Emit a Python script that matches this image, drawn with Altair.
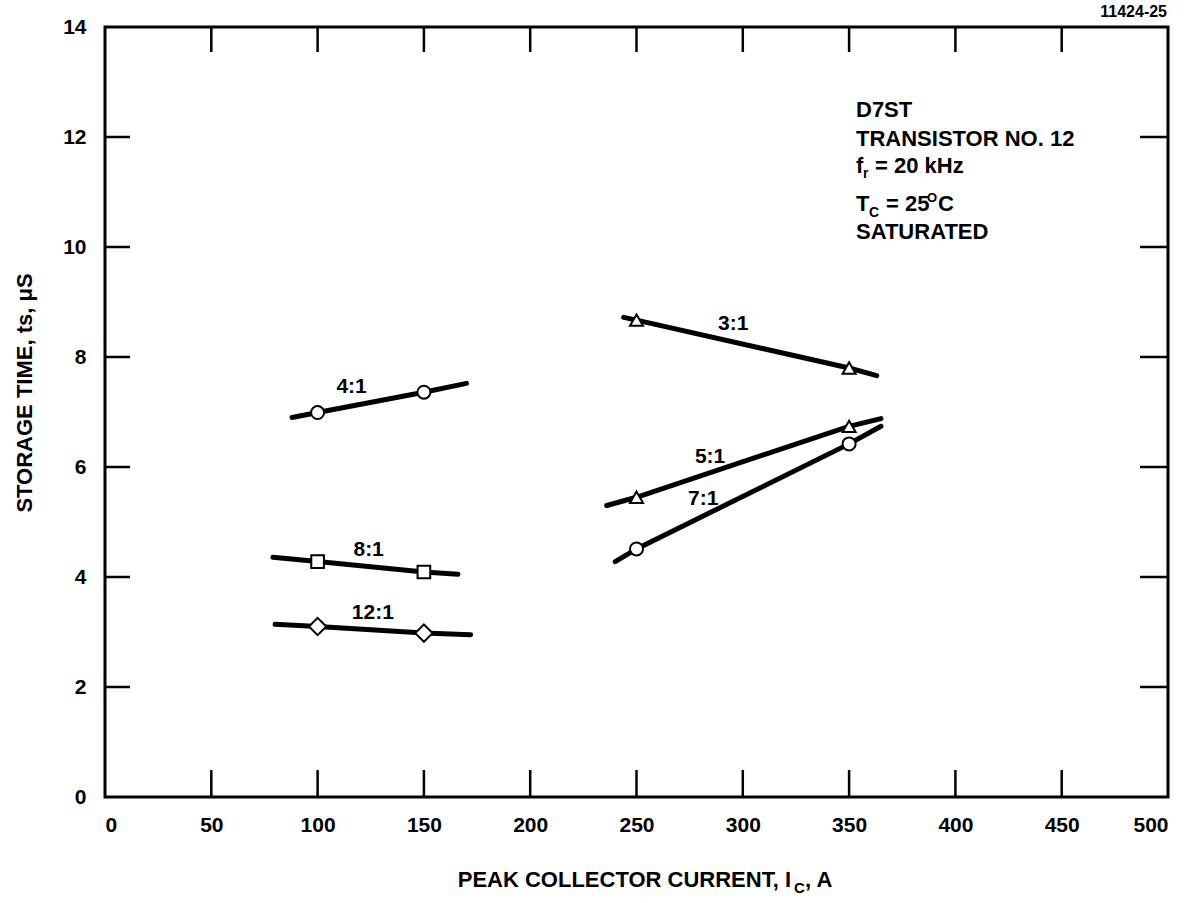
import altair as alt
import pandas as pd

# ---------------- data ----------------
x_ticks = [0, 50, 100, 150, 200, 250, 300, 350, 400, 450, 500]
y_ticks = [0, 2, 4, 6, 8, 10, 12, 14]
inner_x_ticks = [50, 100, 150, 200, 250, 300, 350, 400, 450]
inner_y_ticks = [2, 4, 6, 8, 10, 12]

series_names = ["4:1", "8:1", "12:1", "3:1", "5:1", "7:1"]
line_x = {
    "4:1": [88, 100, 150, 170],
    "8:1": [79, 100, 150, 166],
    "12:1": [80, 100, 150, 172],
    "3:1": [244, 250, 350, 363],
    "5:1": [236, 250, 350, 365],
    "7:1": [240, 250, 350, 365],
}
line_y = {
    "4:1": [6.90, 6.99, 7.36, 7.52],
    "8:1": [4.36, 4.28, 4.09, 4.05],
    "12:1": [3.14, 3.10, 2.98, 2.95],
    "3:1": [8.72, 8.67, 7.80, 7.66],
    "5:1": [5.30, 5.45, 6.74, 6.88],
    "7:1": [4.28, 4.51, 6.42, 6.74],
}
marker_x = {
    "4:1": [100, 150], "8:1": [100, 150], "12:1": [100, 150],
    "3:1": [250, 350], "5:1": [250, 350], "7:1": [250, 350],
}
marker_y = {
    "4:1": [6.99, 7.36], "8:1": [4.28, 4.09], "12:1": [3.10, 2.98],
    "3:1": [8.67, 7.80], "5:1": [5.45, 6.74], "7:1": [4.51, 6.42],
}
marker_shape = {
    "4:1": "circle", "8:1": "square", "12:1": "diamond",
    "3:1": "triangle-up", "5:1": "triangle-up", "7:1": "circle",
}
marker_size = {"circle": 170, "square": 160, "diamond": 300, "triangle-up": 170}
label_x = {"4:1": 116, "8:1": 124, "12:1": 126, "3:1": 295.5, "5:1": 284.6, "7:1": 281.4}
label_y = {"4:1": 7.46, "8:1": 4.49, "12:1": 3.34, "3:1": 8.60, "5:1": 6.19, "7:1": 5.42}

# ---------------- tables ----------------
lines_df = pd.DataFrame(
    [(s, i, x, y) for s in series_names for i, (x, y) in enumerate(zip(line_x[s], line_y[s]))],
    columns=["series", "order", "x", "y"],
)
markers_df = pd.DataFrame(
    [(s, x, y, marker_shape[s], marker_size[marker_shape[s]])
     for s in series_names for x, y in zip(marker_x[s], marker_y[s])],
    columns=["series", "x", "y", "shape", "size"],
)
labels_df = pd.DataFrame(
    [(s, label_x[s], label_y[s]) for s in series_names], columns=["series", "x", "y"]
)
xt_df = pd.DataFrame({"x": inner_x_ticks})
yt_df = pd.DataFrame({"y": inner_y_ticks})

W, H = 1063, 770
FONT = "Liberation Sans"

xscale = alt.Scale(domain=[0, 500], nice=False, zero=False)
yscale = alt.Scale(domain=[0, 14], nice=False, zero=False)

base_x = alt.X(
    "x:Q", scale=xscale,
    axis=alt.Axis(values=x_ticks, format="d", domain=False, ticks=False, grid=False, title=None,
                  labelFont=FONT, labelFontSize=21, labelFontWeight="bold",
                  labelColor="black", labelPadding=17),
)
base_y = alt.Y(
    "y:Q", scale=yscale,
    axis=alt.Axis(values=y_ticks, format="d", domain=False, ticks=False, grid=False, title=None,
                  labelFont=FONT, labelFontSize=21, labelFontWeight="bold",
                  labelColor="black", labelPadding=19),
)

lines = alt.Chart(lines_df).mark_line(
    color="black", strokeWidth=5, strokeCap="round"
).encode(x=base_x, y=base_y, detail="series:N", order="order:Q")

markers = alt.Chart(markers_df).mark_point(
    filled=True, fill="white", stroke="black", strokeWidth=2, opacity=1
).encode(
    x=alt.X("x:Q", scale=xscale), y=alt.Y("y:Q", scale=yscale),
    shape=alt.Shape("shape:N", scale=None),
    size=alt.Size("size:Q", scale=None),
)

labels = alt.Chart(labels_df).mark_text(
    font=FONT, fontSize=21, fontWeight="bold", color="black"
).encode(x=alt.X("x:Q", scale=xscale), y=alt.Y("y:Q", scale=yscale), text="series:N")

tick_style = dict(color="black", strokeWidth=2.5)
bottom_ticks = alt.Chart(xt_df).mark_rule(**tick_style).encode(
    x=alt.X("x:Q", scale=xscale), y=alt.value(H), y2=alt.value(H - 27))
top_ticks = alt.Chart(xt_df).mark_rule(**tick_style).encode(
    x=alt.X("x:Q", scale=xscale), y=alt.value(0), y2=alt.value(25))
left_ticks = alt.Chart(yt_df).mark_rule(**tick_style).encode(
    y=alt.Y("y:Q", scale=yscale), x=alt.value(0), x2=alt.value(25))
right_ticks = alt.Chart(yt_df).mark_rule(**tick_style).encode(
    y=alt.Y("y:Q", scale=yscale), x=alt.value(W), x2=alt.value(W - 28))

# free text pieces: (text, x px, y px, size, align, angle)
pieces = [
    ("D7ST", 751, 83, 22, "left", 0),
    ("TRANSISTOR NO. 12", 751, 112, 22, "left", 0),
    ("f", 751, 139, 22, "left", 0),
    ("r", 758, 147, 14, "left", 0),
    ("= 20 kHz", 770, 139, 22, "left", 0),
    ("T", 751, 177, 22, "left", 0),
    ("C", 764, 186, 14, "left", 0),
    ("= 25", 781, 177, 22, "left", 0),
    ("O", 822, 171, 13, "left", 0),
    ("C", 833, 177, 22, "left", 0),
    ("SATURATED", 751, 205, 22, "left", 0),
    ("11424-25", 1062, -15, 16, "right", 0),
    ("PEAK COLLECTOR CURRENT, I", 686, 853, 22, "right", 0),
    ("C", 689, 861, 15, "left", 0),
    (", A", 700, 853, 22, "left", 0),
    ("STORAGE TIME, ts, \u03bcS", -80, 366, 22, "center", 270),
]
one = pd.DataFrame({"a": [0]})
text_layers = []
for t, px, py, sz, al, ang in pieces:
    kw = dict(text=t, font=FONT, fontSize=sz, fontWeight="bold", color="black",
              align=al, baseline="middle")
    if ang:
        kw["angle"] = ang
    text_layers.append(
        alt.Chart(one).mark_text(**kw).encode(x=alt.value(px), y=alt.value(py))
    )

chart = alt.layer(
    lines, markers, labels, bottom_ticks, top_ticks, left_ticks, right_ticks, *text_layers
).properties(
    width=W, height=H, autosize="none",
    padding={"left": 105, "top": 27, "right": 32, "bottom": 106},
    background="white",
).configure_view(stroke="black", strokeWidth=3)

chart.save("out.html", embed_options={"renderer": "svg", "actions": False})
